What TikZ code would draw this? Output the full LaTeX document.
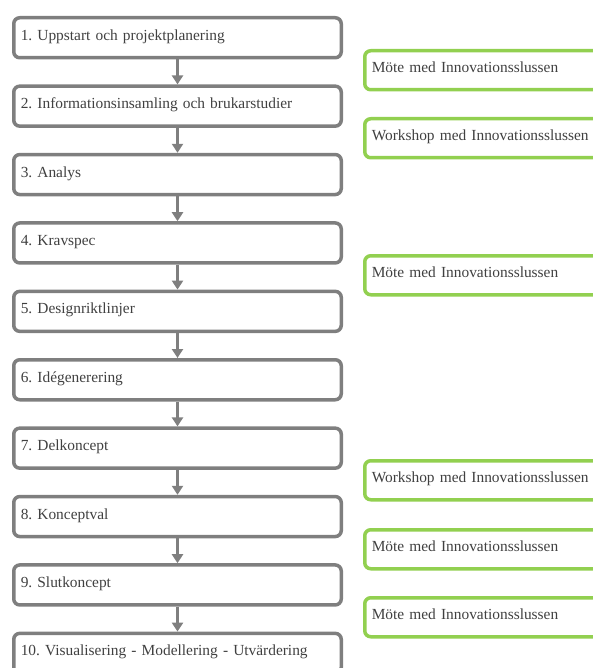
\documentclass[tikz,border=0pt]{standalone}
\usepackage{fontspec}
\setmainfont{Liberation Serif}
\usetikzlibrary{positioning,arrows.meta}
\definecolor{gra}{RGB}{127,127,127}
\definecolor{gron}{RGB}{146,208,80}
\definecolor{textfarg}{RGB}{64,64,64}

\begin{document}
\begin{tikzpicture}[x=1pt, y=-1pt,
  fas/.style={draw=gra, line width=3.5pt, rounded corners=6pt, minimum width=327.5pt, minimum height=40pt,
    inner xsep=7pt, text width=313.5pt, align=left, text height=10pt, text depth=5pt,
    font=\fontsize{15.4}{18}\selectfont\frenchspacing, text=textfarg},
  mote/.style={draw=gron, line width=3.5pt, rounded corners=6pt, minimum width=240pt, minimum height=39pt,
    inner xsep=7pt, text width=226pt, align=left, text height=10pt, text depth=5pt,
    font=\fontsize{15.4}{18}\selectfont\frenchspacing, text=textfarg, anchor=north west},
  pil/.style={draw=gra, line width=3.5pt, -{Triangle[width=11pt,length=9pt]}},
  node distance=24.9pt
]
\useasboundingbox (0,0) rectangle (593,668);
\clip (0,0) rectangle (593,668);
\node[fas, anchor=north west] (f1) at (12,16) {1. Uppstart och projektplanering};
\node[fas, below=of f1] (f2) {2. Informationsinsamling och brukarstudier};
\node[fas, below=of f2] (f3) {3. Analys};
\node[fas, below=of f3] (f4) {4. Kravspec};
\node[fas, below=of f4] (f5) {5. Designriktlinjer};
\node[fas, below=of f5] (f6) {6. Idégenerering};
\node[fas, below=of f6] (f7) {7. Delkoncept};
\node[fas, below=of f7] (f8) {8. Konceptval};
\node[fas, below=of f8] (f9) {9. Slutkoncept};
\node[fas, below=of f9] (f10) {10. Visualisering - Modellering - Utvärdering};
\draw[pil] (f1) -- (f2);
\draw[pil] (f2) -- (f3);
\draw[pil] (f3) -- (f4);
\draw[pil] (f4) -- (f5);
\draw[pil] (f5) -- (f6);
\draw[pil] (f6) -- (f7);
\draw[pil] (f7) -- (f8);
\draw[pil] (f8) -- (f9);
\draw[pil] (f9) -- (f10);
\node[mote] (m1) at (363,49) {Möte med Innovationsslussen};
\node[mote] (m2) at (363,117) {Workshop med Innovationsslussen};
\node[mote] (m3) at (363,254) {Möte med Innovationsslussen};
\node[mote] (m4) at (363,459) {Workshop med Innovationsslussen};
\node[mote] (m5) at (363,528) {Möte med Innovationsslussen};
\node[mote] (m6) at (363,596) {Möte med Innovationsslussen};
\end{tikzpicture}
\end{document}
